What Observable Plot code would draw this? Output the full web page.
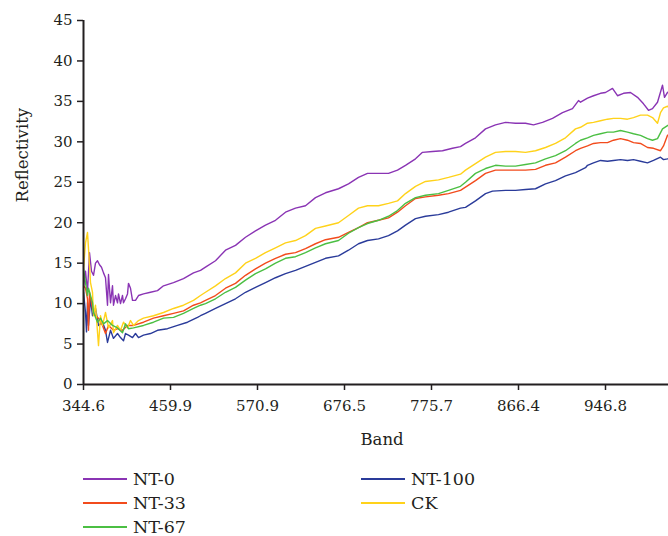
<!DOCTYPE html>
<html><head><meta charset="utf-8">
<script src="https://cdn.jsdelivr.net/npm/d3@7"></script>
<script src="https://cdn.jsdelivr.net/npm/@observablehq/plot@0.6"></script>
<style>
body{margin:0;background:#fff;}
#wrap{position:relative;width:668px;height:536px;overflow:hidden;font-family:"DejaVu Serif",serif;color:#231f20;background:#fff;}
#legend{position:absolute;left:0;top:460px;width:668px;height:76px;}
.item{position:absolute;display:flex;align-items:center;height:24px;font-size:17.5px;white-space:nowrap;}
.sw{width:44px;height:2px;margin-right:6px;}
</style></head><body><div id="wrap"><div id="chart"></div><div id="legend"></div></div>
<script>
// Band index (x) and reflectivity (y)
const bandTicks = [0, 87, 174, 261, 348, 435, 522];
const bandLabels = ["344.6", "459.9", "570.9", "676.5", "775.7", "866.4", "946.8"];
const yTicks = [0, 5, 10, 15, 20, 25, 30, 35, 40, 45];
const xTitle = "Band";
const yTitle = "Reflectivity";

const seriesNames = ["NT-0", "NT-100", "NT-33", "CK", "NT-67"];
const seriesColors = ["#8a34b4", "#2a3b9a", "#f24b1c", "#ffd21a", "#4bbf43"];

const nt0 = [[0,12.0],[2,14.0],[4,11.5],[6,16.3],[8,14.0],[10,13.5],[12,15.0],[14,15.3],[16,14.8],[18,14.5],[20,13.8],[22,13.2],[24,9.8],[25,13.6],[27,10.1],[29,12.2],[30,9.8],[32,11.0],[34,10.1],[35,11.2],[37,10.0],[39,11.0],[40,10.1],[42,10.6],[44,11.2],[45,12.5],[47,11.9],[49,10.4],[52,10.4],[55,11.0],[60,11.2],[67,11.4],[74,11.6],[80,12.2],[90,12.6],[100,13.1],[110,13.8],[117,14.1],[122,14.5],[132,15.3],[142,16.6],[152,17.2],[162,18.2],[172,19.0],[182,19.7],[192,20.3],[202,21.3],[212,21.8],[222,22.1],[232,23.1],[242,23.7],[255,24.2],[265,24.8],[275,25.6],[284,26.1],[295,26.1],[305,26.1],[314,26.5],[322,27.1],[332,27.9],[339,28.7],[349,28.8],[359,28.9],[369,29.2],[377,29.4],[382,29.8],[392,30.5],[402,31.6],[412,32.1],[422,32.4],[432,32.3],[442,32.3],[450,32.1],[459,32.4],[469,32.9],[479,33.6],[489,34.1],[495,35.1],[497,34.9],[504,35.4],[510,35.7],[517,36.0],[522,36.1],[529,36.6],[534,35.7],[540,36.0],[547,36.1],[554,35.5],[560,34.7],[565,33.9],[569,34.1],[574,34.9],[579,37.0],[581,35.5],[584,36.1],[587,36.3]];

const ck = [[0,14.3],[2,17.5],[4,18.8],[5,16.8],[7,12.6],[9,11.4],[10,8.5],[12,9.8],[15,4.8],[17,8.5],[19,7.3],[22,8.9],[25,7.0],[29,7.9],[30,6.4],[34,7.3],[37,6.7],[40,7.7],[44,7.0],[47,7.9],[50,7.3],[55,7.9],[60,8.2],[70,8.5],[80,8.9],[90,9.4],[100,9.8],[110,10.4],[117,11.0],[122,11.4],[132,12.2],[142,13.1],[152,13.8],[162,15.0],[172,15.6],[182,16.3],[192,16.9],[202,17.5],[212,17.8],[222,18.4],[232,19.3],[242,19.6],[255,20.0],[265,20.9],[275,21.8],[284,22.1],[295,22.1],[305,22.4],[314,22.7],[322,23.6],[332,24.5],[342,25.1],[355,25.3],[365,25.6],[377,26.0],[382,26.5],[392,27.3],[402,28.1],[412,28.7],[422,28.8],[432,28.8],[442,28.7],[452,28.9],[462,29.3],[472,29.8],[482,30.5],[492,31.6],[497,31.8],[504,32.3],[510,32.4],[517,32.6],[524,32.8],[530,32.9],[537,32.9],[544,32.8],[550,33.0],[557,33.3],[564,33.3],[569,33.0],[574,32.3],[577,33.6],[580,34.2],[584,34.4],[587,34.0]];

const nt33 = [[0,12.2],[2,11.9],[4,10.6],[5,6.7],[6,11.4],[9,9.4],[12,8.5],[15,8.2],[19,7.3],[22,6.3],[25,7.3],[30,6.7],[34,6.9],[39,6.7],[44,7.3],[50,7.3],[60,7.7],[70,8.2],[80,8.5],[90,8.8],[100,9.1],[110,9.8],[117,10.1],[122,10.4],[132,11.0],[142,11.9],[152,12.5],[162,13.5],[172,14.3],[182,15.0],[192,15.6],[202,16.1],[212,16.3],[222,16.8],[232,17.4],[242,17.9],[255,18.2],[265,18.8],[275,19.4],[284,20.0],[295,20.3],[305,20.6],[314,21.3],[322,22.1],[332,23.0],[342,23.2],[355,23.4],[365,23.6],[377,24.0],[382,24.4],[392,25.2],[402,26.1],[412,26.5],[422,26.5],[432,26.5],[442,26.5],[452,26.6],[462,27.1],[472,27.4],[482,28.1],[492,28.9],[497,29.2],[504,29.5],[510,29.8],[517,29.9],[524,29.9],[530,30.2],[537,30.4],[544,30.2],[550,29.9],[557,29.8],[564,29.3],[570,29.2],[577,28.9],[580,29.5],[584,30.8],[587,31.0]];

const nt67 = [[0,14.3],[2,12.6],[4,11.0],[5,11.9],[9,10.1],[10,8.9],[14,7.7],[17,8.2],[20,7.5],[24,7.9],[29,7.3],[34,7.0],[39,6.4],[42,7.5],[45,6.9],[50,7.0],[60,7.3],[70,7.7],[80,8.2],[90,8.3],[100,8.8],[110,9.4],[117,9.8],[122,10.0],[132,10.6],[142,11.4],[152,12.0],[162,12.9],[172,13.7],[182,14.3],[192,15.0],[202,15.6],[212,15.8],[222,16.3],[232,16.9],[242,17.4],[255,17.8],[265,18.7],[275,19.4],[284,19.9],[295,20.3],[305,20.8],[314,21.5],[322,22.4],[332,23.1],[342,23.4],[355,23.6],[365,24.0],[377,24.5],[382,25.0],[392,26.1],[402,26.7],[412,27.1],[422,27.0],[432,27.0],[442,27.2],[452,27.4],[462,27.9],[472,28.3],[482,28.9],[492,29.8],[497,30.2],[504,30.5],[510,30.8],[517,31.0],[524,31.2],[530,31.2],[537,31.4],[544,31.2],[550,31.0],[557,30.8],[564,30.4],[569,30.2],[574,30.4],[579,31.6],[584,32.0],[587,32.2]];

const nt100 = [[0,11.4],[2,8.9],[3,6.5],[4,10.1],[5,7.3],[7,10.6],[9,8.5],[12,9.4],[15,7.3],[19,7.7],[22,6.7],[24,5.2],[27,6.7],[30,5.7],[34,6.3],[37,5.8],[40,5.4],[42,6.3],[45,6.1],[49,5.8],[52,6.3],[55,5.8],[60,6.1],[67,6.3],[74,6.7],[84,6.9],[94,7.3],[104,7.7],[114,8.3],[117,8.5],[122,8.8],[132,9.4],[142,10.0],[152,10.6],[162,11.4],[172,12.0],[182,12.6],[192,13.2],[202,13.7],[212,14.1],[222,14.6],[232,15.1],[242,15.6],[255,15.9],[265,16.6],[275,17.4],[284,17.8],[295,18.0],[305,18.4],[314,19.0],[322,19.7],[332,20.5],[342,20.8],[355,21.0],[365,21.3],[377,21.8],[382,21.9],[392,22.7],[402,23.6],[409,23.9],[422,24.0],[432,24.0],[442,24.1],[452,24.2],[462,24.8],[472,25.2],[482,25.8],[492,26.2],[502,26.8],[504,27.1],[510,27.4],[517,27.7],[524,27.6],[530,27.7],[537,27.8],[544,27.7],[550,27.8],[557,27.6],[564,27.4],[570,27.7],[577,28.1],[580,27.8],[584,27.9],[587,28.0]];

const seriesData = [nt0, nt100, nt33, ck, nt67];

const lineMarks = seriesData.map((data, i) =>
  Plot.line(data, {x: d => d[0], y: d => d[1], stroke: seriesColors[i], strokeWidth: 1.4, clip: true})
);

const chart = Plot.plot({
  width: 668, height: 460,
  marginLeft: 83, marginRight: 0, marginTop: 20, marginBottom: 76,
  style: {fontFamily: '"DejaVu Serif", serif', fontSize: "15px", color: "#231f20", background: "#fff"},
  x: {domain: [0, 585]},
  y: {domain: [0, 45]},
  marks: [
    Plot.axisY(yTicks, {tickSize: 6, tickPadding: 5, label: null, strokeWidth: 1.5}),
    Plot.axisX(bandTicks, {tickSize: 6, tickPadding: 10, label: null, strokeWidth: 1.5,
      tickFormat: d => bandLabels[bandTicks.indexOf(d)]}),
    ...lineMarks,
    Plot.ruleX([0], {stroke: "#231f20", strokeWidth: 2}),
    Plot.ruleY([0], {stroke: "#231f20", strokeWidth: 2}),
    Plot.text([yTitle], {text: d => d, frameAnchor: "left", dx: -61, rotate: -90, fontSize: 16.5, fill: "#231f20"}),
    Plot.text([xTitle], {text: d => d, frameAnchor: "bottom", dy: 60, dx: 6, fontSize: 16.5, fill: "#231f20"})
  ]
});
document.getElementById("chart").appendChild(chart);

// Legend below the SVG
const legendPos = {
  "NT-0": [83, 19], "NT-33": [83, 43], "NT-67": [83, 67],
  "NT-100": [361, 19], "CK": [361, 43]
};
const legend = document.getElementById("legend");
seriesNames.forEach((name, i) => {
  const [lx, ly] = legendPos[name];
  const item = document.createElement("div");
  item.className = "item";
  item.style.left = lx + "px";
  item.style.top = (ly - 12) + "px";
  const sw = document.createElement("div");
  sw.className = "sw";
  sw.style.background = seriesColors[i];
  const label = document.createElement("span");
  label.textContent = name;
  item.appendChild(sw);
  item.appendChild(label);
  legend.appendChild(item);
});
</script></body></html>
